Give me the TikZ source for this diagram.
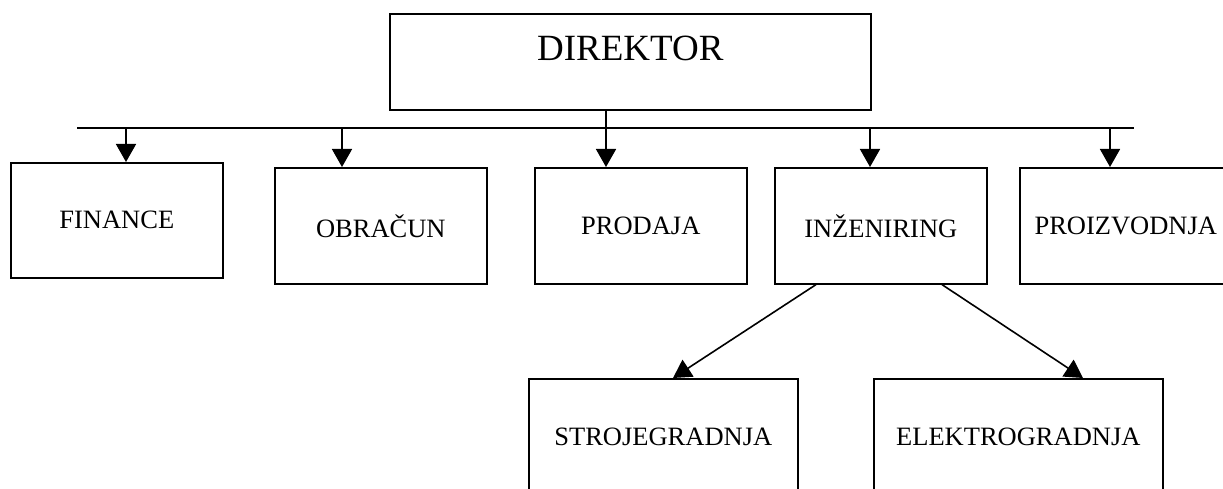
\documentclass[tikz,border=0pt]{standalone}
\usepackage{fontspec}
\setmainfont{Liberation Serif}
\usetikzlibrary{arrows.meta,calc}

\tikzset{
  unit/.style={draw, line width=1.6pt, rectangle, anchor=north west, inner sep=0pt,
    minimum width=212pt, minimum height=116pt,
    font=\fontsize{26.5}{30}\selectfont},
  arr/.style={line width=1.6pt, -{Triangle[width=20pt,length=18pt]}},
  busline/.style={line width=1.6pt}
}

\begin{document}
\begin{tikzpicture}[x=1pt,y=-1pt]
  \clip (0,0) rectangle (1223,489);
  \useasboundingbox (0,0) rectangle (1223,489);

  % top management box, title set high inside it
  \node[draw, line width=1.6pt, anchor=north west, inner sep=0pt,
        minimum width=481pt, text height=47pt, text depth=49pt,
        font=\fontsize{37}{40}\selectfont] (dir) at (389,13) {DIREKTOR};

  % departments
  \node[unit, minimum height=115pt] (fin) at (10,162)   {FINANCE};
  \node[unit] (obr) at (274,167)  {OBRAČUN};
  \node[unit] (pro) at (534,167)  {PRODAJA};
  \node[unit] (ing) at (774,167)  {INŽENIRING};
  \node[unit] (piz) at (1019,167) {PROIZVODNJA};

  % sub-departments of engineering
  \node[unit, minimum width=269pt] (str) at (528,378) {STROJEGRADNJA};
  \node[unit, minimum width=289pt] (ele) at (873,378) {ELEKTROGRADNJA};

  % distribution bus
  \coordinate (busL) at (77,128);
  \coordinate (busR) at (1134,128);
  \draw[busline] (busL) -- (busR);

  % drop points on the bus
  \coordinate (b1) at (126,128);
  \coordinate (b2) at (342,128);
  \coordinate (b4) at (870,128);
  \coordinate (b5) at (1110,128);
  \coordinate (d3) at ($(dir.south west)+(217,0)$);

  \draw[arr] (b1) -- (b1 |- fin.north);
  \draw[arr] (b2) -- (b2 |- obr.north);
  \draw[arr] (d3) -- (d3 |- pro.north);
  \draw[arr] (b4) -- (b4 |- ing.north);
  \draw[arr] (b5) -- (b5 |- piz.north);

  % engineering to its sub-departments
  \coordinate (i1) at ($(ing.south west)+(42,0)$);
  \coordinate (i2) at ($(ing.south west)+(168,0)$);
  \coordinate (s1) at ($(str.north west)+(145,0)$);
  \coordinate (e1) at ($(ele.north west)+(210,0)$);
  \draw[arr] (i1) -- (s1);
  \draw[arr] (i2) -- (e1);
\end{tikzpicture}
\end{document}
